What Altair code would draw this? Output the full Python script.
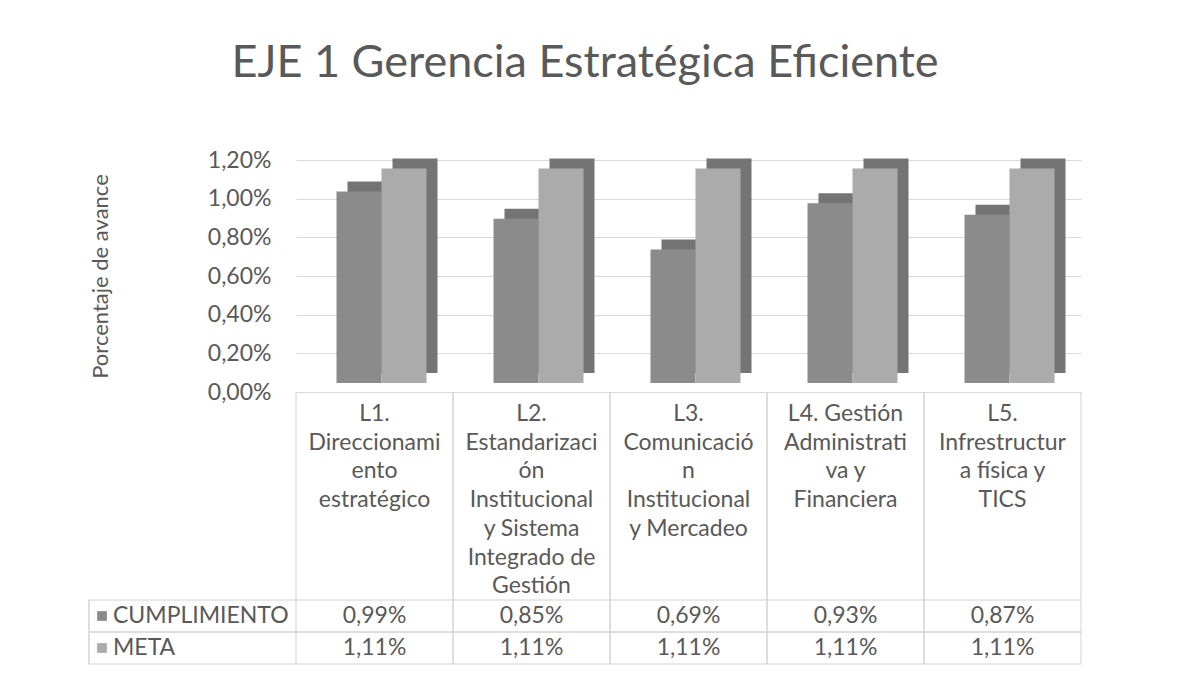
import altair as alt
import pandas as pd

FONT = "Lato"
TXT = "#595959"
LINE = "#d2d2d2"

# ---- data ----
cat_ids = ["L1", "L2", "L3", "L4", "L5"]
cat_labels = [
    "L1.\nDireccionami\nento\nestratégico",
    "L2.\nEstandarizaci\nón\nInstitucional\ny Sistema\nIntegrado de\nGestión",
    "L3.\nComunicació\nn\nInstitucional\ny Mercadeo",
    "L4. Gestión\nAdministrati\nva y\nFinanciera",
    "L5.\nInfrestructur\na física y\nTICS",
]
series = ["CUMPLIMIENTO", "META"]
cumplimiento = [0.0099, 0.0085, 0.0069, 0.0093, 0.0087]
meta = [0.0111, 0.0111, 0.0111, 0.0111, 0.0111]
y_ticks = [0, 0.002, 0.004, 0.006, 0.008, 0.010, 0.012]
series_colors = ["#8b8b8b", "#ababab"]

df = pd.DataFrame({"cat": cat_ids, "CUMPLIMIENTO": cumplimiento, "META": meta})
hdr = pd.DataFrame({"cat": cat_ids, "label": cat_labels})
ser = pd.DataFrame({"serie": series})

W = 785
H_BARS = 232
H_HDR = 208
H_ROWS = 64
DX, DY = 11, 10   # 3D depth
LIFT = 9          # front face lift
BW = 45           # bar width
SHIFT = 7         # pair shift right

color_scale = alt.Scale(domain=series, range=series_colors)
xscale = alt.Scale(domain=cat_ids, paddingInner=0, paddingOuter=0)
fmt = "replace(format(datum.value, '.2%'), '.', ',')"

# ---- bars (3D look: darker back copy shifted up/right) ----
xb = alt.X("cat:N", sort=cat_ids, scale=xscale, axis=None)
yaxis = alt.Axis(values=y_ticks, labelExpr=fmt, title="Porcentaje de avance",
                 titleFontSize=22, titleFontWeight="normal", titleColor=TXT,
                 titleFont=FONT, labelFont=FONT,
                 labelColor=TXT, labelFontSize=23, labelPadding=25,
                 titlePadding=95, domain=False, ticks=False,
                 gridColor="#d9d9d9")
ysc = alt.Scale(domain=[0, 0.012])
bw = alt.RelativeBandSize(BW / W * len(cat_ids))

layers = []
offsets = {"CUMPLIMIENTO": SHIFT - BW / 2, "META": SHIFT + BW / 2}
for s in series:
    layers.append(
        alt.Chart(df).mark_bar(width=bw, xOffset=offsets[s] + DX, yOffset=-LIFT - DY,
                               y2Offset=-LIFT - DY, color="#747474")
        .encode(x=xb, y=alt.Y(f"{s}:Q", scale=ysc, axis=yaxis))
    )
for s in series:
    layers.append(
        alt.Chart(df).transform_calculate(serie=f"'{s}'")
        .mark_bar(width=bw, xOffset=offsets[s], yOffset=-LIFT, y2Offset=-LIFT)
        .encode(x=xb, y=alt.Y(f"{s}:Q", scale=ysc, axis=yaxis),
                color=alt.Color("serie:N", scale=color_scale, legend=None))
    )
bars = alt.layer(*layers).properties(
    width=W, height=H_BARS, view=alt.ViewBackground(stroke=None))

# ---- table header (category names) ----
xt_l = alt.X("cat:N", sort=cat_ids, bandPosition=0, scale=xscale, axis=None)
xt_r = alt.X("cat:N", sort=cat_ids, bandPosition=1, scale=xscale, axis=None)
hdr_l = alt.Chart(hdr).mark_rule(color=LINE).encode(x=xt_l)
hdr_r = alt.Chart(hdr).mark_rule(color=LINE).encode(x=xt_r)
hdr_text = alt.Chart(hdr).mark_text(
    lineBreak="\n", baseline="top", fontSize=23, lineHeight=28.7, color=TXT, font=FONT
).encode(x=xb, y=alt.value(11), text="label:N")
header = alt.layer(hdr_l, hdr_r, hdr_text).properties(
    width=W, height=H_HDR, view=alt.ViewBackground(stroke=None))

# ---- table rows ----
long = pd.DataFrame(
    [{"cat": c, "serie": s, "valor": v}
     for s, vals in zip(series, [cumplimiento, meta]) for c, v in zip(cat_ids, vals)]
)
ys = alt.Scale(domain=series, paddingInner=0, paddingOuter=0)
yr = alt.Y("serie:N", sort=series, scale=ys, axis=None)
vr_l = alt.Chart(hdr).mark_rule(color=LINE).encode(x=xt_l)
vr_r = alt.Chart(hdr).mark_rule(color=LINE).encode(x=xt_r)
top_rules = alt.Chart(ser).mark_rule(color=LINE).encode(
    y=alt.Y("serie:N", sort=series, scale=ys, axis=None, bandPosition=0),
    x=alt.value(-207), x2=alt.value(W))
bot_rules = alt.Chart(ser).mark_rule(color=LINE).encode(
    y=alt.Y("serie:N", sort=series, scale=ys, axis=None, bandPosition=1),
    x=alt.value(-207), x2=alt.value(W))
left_rule = alt.Chart(ser).mark_rule(color=LINE).encode(
    x=alt.value(-207), y=alt.value(0), y2=alt.value(H_ROWS))
squares = alt.Chart(ser).mark_point(shape="square", filled=True, size=95, opacity=1).encode(
    x=alt.value(-194), y=yr, color=alt.Color("serie:N", scale=color_scale, legend=None))
names = alt.Chart(ser).mark_text(align="left", fontSize=23, color=TXT, font=FONT).encode(
    x=alt.value(-183), y=yr, text="serie:N")
vals = alt.Chart(long).transform_calculate(
    texto="replace(format(datum.valor, '.2%'), '.', ',')"
).mark_text(fontSize=23, color=TXT, font=FONT).encode(x=xb, y=yr, text="texto:N")
table = alt.layer(vr_l, vr_r, top_rules, bot_rules, left_rule, squares, names, vals).properties(
    width=W, height=H_ROWS, view=alt.ViewBackground(stroke=None))

chart = alt.vconcat(bars, header, table, spacing=0, bounds="flush").resolve_scale(
    y="independent", color="shared"
).properties(
    title=alt.TitleParams("EJE 1 Gerencia Estratégica Eficiente", fontSize=45, font=FONT,
                          color=TXT, fontWeight="normal", anchor="middle", offset=63),
    padding={"left": 80, "top": 33, "right": 5, "bottom": 0},
).configure_view(stroke=None).configure(font=FONT)

chart.save("out.html", embed_options={"renderer": "svg", "actions": False})
